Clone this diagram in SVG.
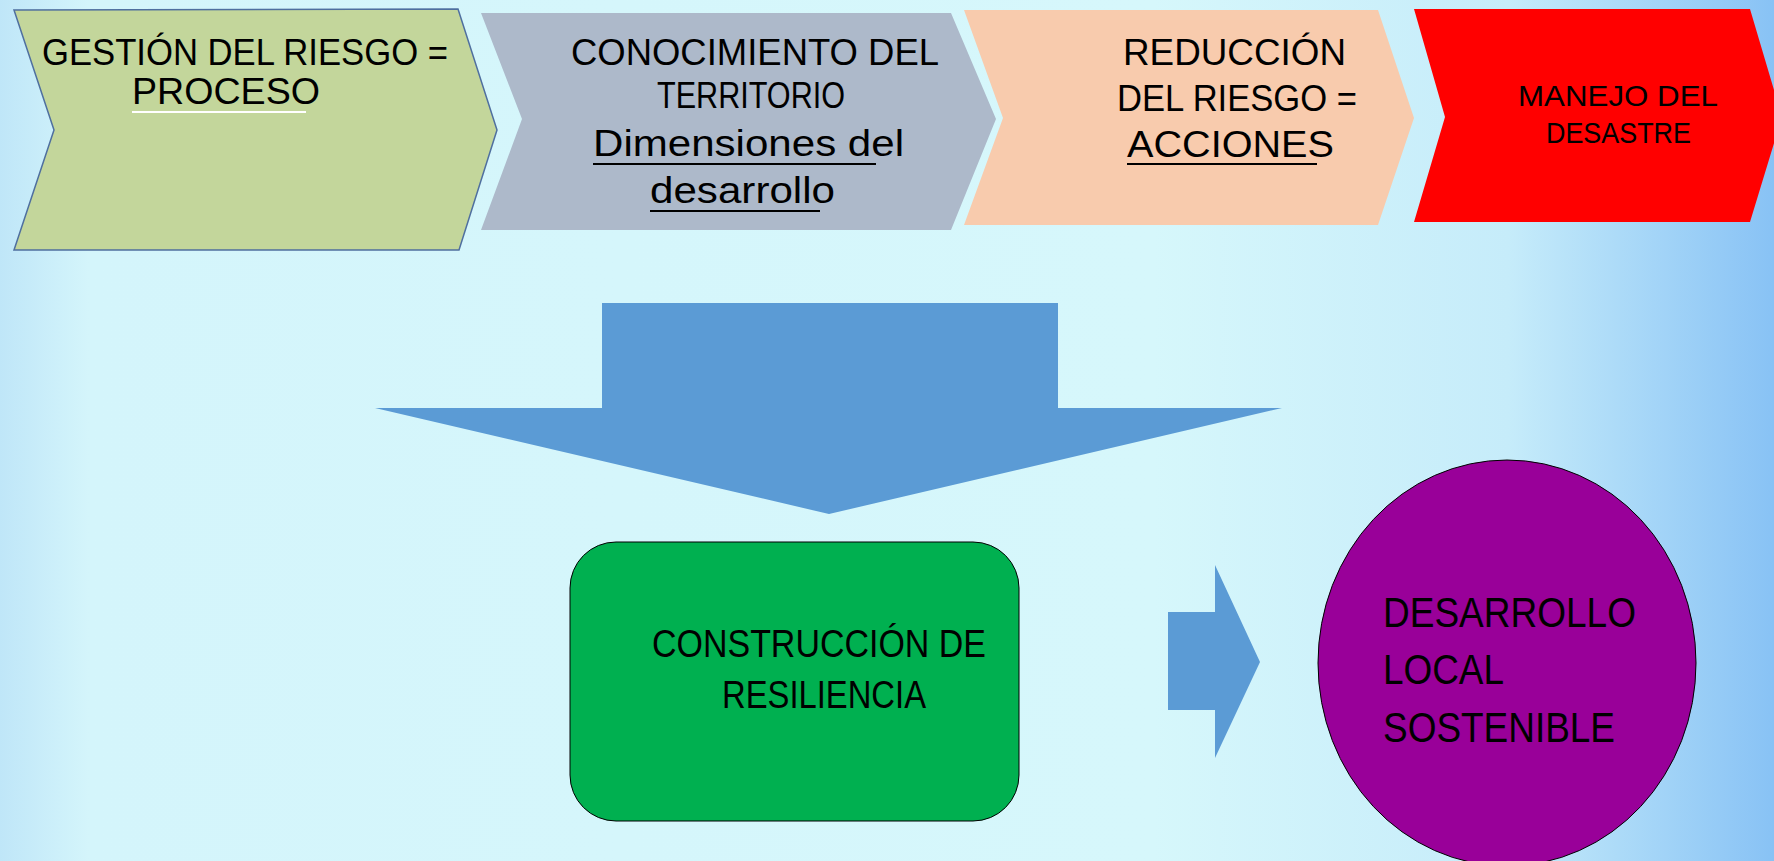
<svg xmlns="http://www.w3.org/2000/svg" width="1774" height="861" viewBox="0 0 1774 861">
<defs>
<linearGradient id="bg" x1="0" y1="0" x2="1" y2="0">
<stop offset="0" stop-color="#bfe6f8"/>
<stop offset="0.05" stop-color="#d4f5fb"/>
<stop offset="0.65" stop-color="#d6f7fb"/>
<stop offset="0.85" stop-color="#c6ecfa"/>
<stop offset="1" stop-color="#88c2f5"/>
</linearGradient>
<style>
.t{font-family:"Liberation Sans",Arial,sans-serif;fill:#000;}
.c{font-size:36px;}
.r{font-size:29px;}
.b{font-size:38px;}
.o{font-size:43px;}
.u{stroke:#000;stroke-width:2;}
.arrow{fill:#5b9bd5;}
</style>
</defs>
<rect x="0" y="0" width="1774" height="861" fill="url(#bg)"/>

<g id="gestion">
<polygon points="14,10 458,9 497,130 459,250 14,250 54,130" fill="#c3d69b" stroke="#4f6f9f" stroke-width="1.5"/>
<text class="t c" x="42" y="65" textLength="406" lengthAdjust="spacingAndGlyphs">GESTIÓN DEL RIESGO =</text>
<text class="t c" x="132" y="104" textLength="188" lengthAdjust="spacingAndGlyphs">PROCESO</text>
<line x1="132" y1="112" x2="306" y2="112" stroke="#ffffff" stroke-width="2"/>
</g>

<g id="conocimiento">
<polygon points="481,13 951,13 996,119 951,230 481,230 522,119" fill="#adb9ca"/>
<text class="t c" x="571" y="65" textLength="368" lengthAdjust="spacingAndGlyphs">CONOCIMIENTO DEL</text>
<text class="t c" x="657" y="108" textLength="188" lengthAdjust="spacingAndGlyphs">TERRITORIO</text>
<text class="t c" x="593" y="156" textLength="311" lengthAdjust="spacingAndGlyphs">Dimensiones del</text>
<line class="u" x1="593" y1="164" x2="876" y2="164"/>
<text class="t c" x="650" y="203" textLength="185" lengthAdjust="spacingAndGlyphs">desarrollo</text>
<line class="u" x1="650" y1="211" x2="820" y2="211"/>
</g>

<g id="reduccion">
<polygon points="964,10 1378,10 1414,118 1378,225 964,225 1003,118" fill="#f8cbad"/>
<text class="t c" x="1123" y="65" textLength="223" lengthAdjust="spacingAndGlyphs">REDUCCIÓN</text>
<text class="t c" x="1117" y="111" textLength="240" lengthAdjust="spacingAndGlyphs">DEL RIESGO =</text>
<text class="t c" x="1127" y="157" textLength="207" lengthAdjust="spacingAndGlyphs">ACCIONES</text>
<line class="u" x1="1127" y1="164" x2="1317" y2="164"/>
</g>

<g id="manejo">
<polygon points="1414,9 1750,9 1782,117 1750,222 1414,222 1445,117" fill="#ff0000"/>
<text class="t r" x="1518" y="106" textLength="200" lengthAdjust="spacingAndGlyphs">MANEJO DEL</text>
<text class="t r" x="1546" y="143" textLength="145" lengthAdjust="spacingAndGlyphs">DESASTRE</text>
</g>

<g id="connectors">
<polygon class="arrow" points="602,303 1058,303 1058,408 1282,408 829,514 375,408 602,408"/>
<polygon class="arrow" points="1168,612 1215,612 1215,565 1260,662 1215,758 1215,710 1168,710"/>
</g>

<g id="resiliencia">
<rect x="570" y="542" width="449" height="279" rx="46" ry="46" fill="#00b050" stroke="#000" stroke-width="1"/>
<text class="t b" x="652" y="657" textLength="334" lengthAdjust="spacingAndGlyphs">CONSTRUCCIÓN DE</text>
<text class="t b" x="722" y="708" textLength="204" lengthAdjust="spacingAndGlyphs">RESILIENCIA</text>
</g>

<g id="desarrollo">
<ellipse cx="1507" cy="663" rx="189" ry="203" fill="#990099" stroke="#000" stroke-width="1"/>
<text class="t o" x="1383" y="627" textLength="253" lengthAdjust="spacingAndGlyphs">DESARROLLO</text>
<text class="t o" x="1383" y="684" textLength="121" lengthAdjust="spacingAndGlyphs">LOCAL</text>
<text class="t o" x="1383" y="742" textLength="232" lengthAdjust="spacingAndGlyphs">SOSTENIBLE</text>
</g>
</svg>
